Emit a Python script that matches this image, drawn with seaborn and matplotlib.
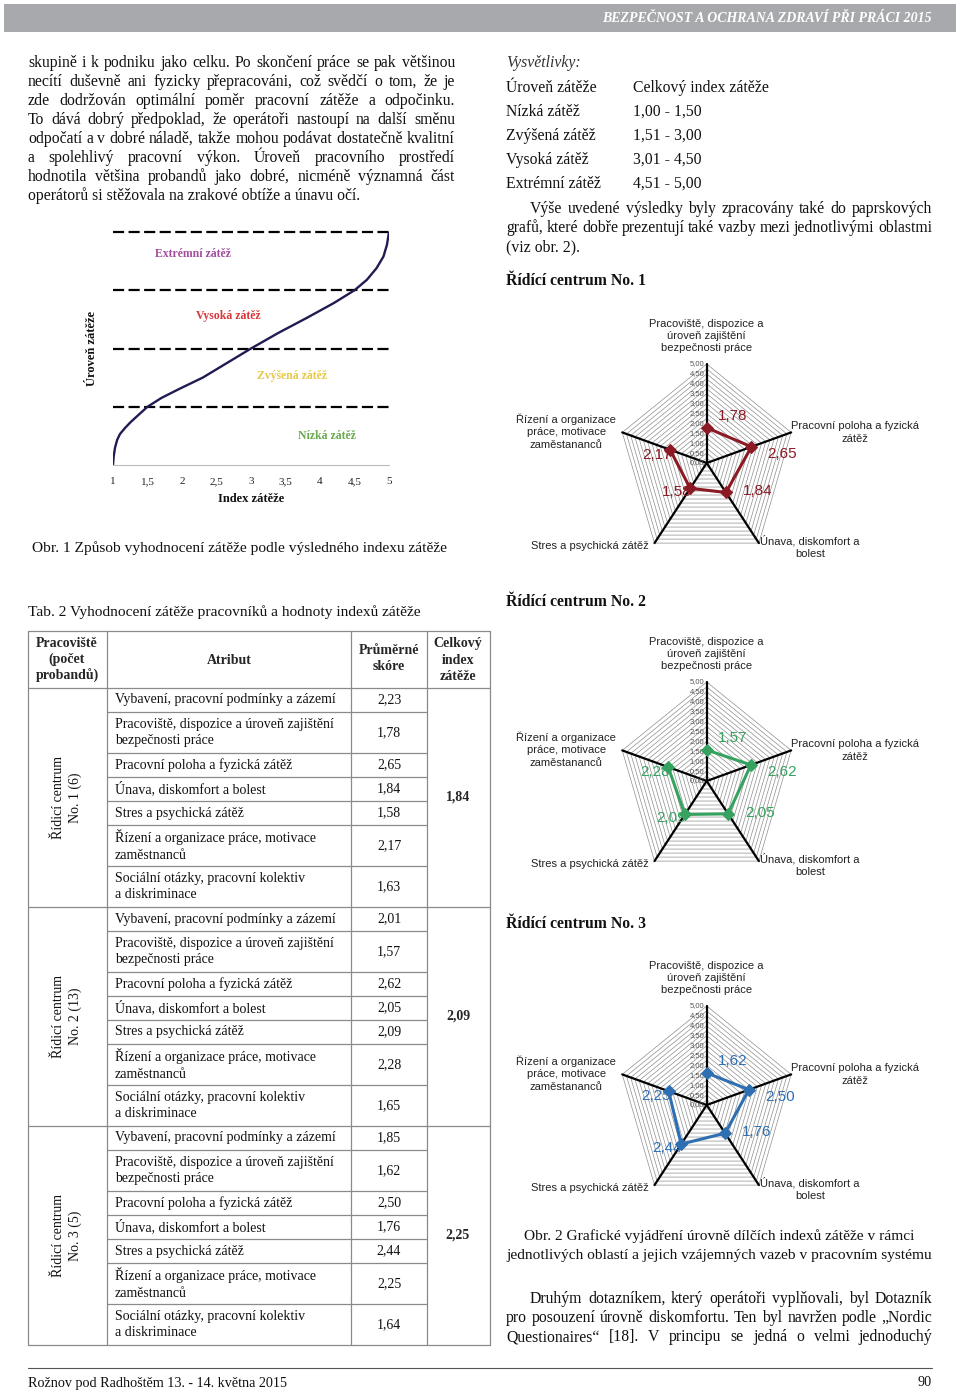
import numpy as np
import pandas as pd
import matplotlib
matplotlib.use("Agg")
import matplotlib.pyplot as plt
import seaborn as sns
from matplotlib.patches import Rectangle
from matplotlib.textpath import TextToPath
from matplotlib.font_manager import FontProperties

# ---- data ----
attributes = ["Vybavení, pracovní podmínky a zázemí",
              "Pracoviště, dispozice a úroveň zajištění\nbezpečnosti práce",
              "Pracovní poloha a fyzická zátěž",
              "Únava, diskomfort a bolest",
              "Stres a psychická zátěž",
              "Řízení a organizace práce, motivace\nzaměstnanců",
              "Sociální otázky, pracovní kolektiv\na diskriminace"]
groups = ["Řídicí centrum\nNo. 1 (6)", "Řídicí centrum\nNo. 2 (13)", "Řídicí centrum\nNo. 3 (5)"]
scores_c1 = [2.23, 1.78, 2.65, 1.84, 1.58, 2.17, 1.63]
scores_c2 = [2.01, 1.57, 2.62, 2.05, 2.09, 2.28, 1.65]
scores_c3 = [1.85, 1.62, 2.50, 1.76, 2.44, 2.25, 1.64]
totals = [1.84, 2.09, 2.25]

radar_axes = ["Pracoviště, dispozice a\núroveň zajištění\nbezpečnosti práce",
              "Pracovní poloha a fyzická\nzátěž",
              "Únava, diskomfort a\nbolest",
              "Stres a psychická zátěž",
              "Řízení a organizace\npráce, motivace\nzaměstananců"]
radar_titles = ["Řídící centrum No. 1", "Řídící centrum No. 2", "Řídící centrum No. 3"]
radar_colors = ["#8b1a24", "#35a35f", "#2e6fb2"]

curve_x = [1.00, 1.01, 1.03, 1.06, 1.10, 1.17, 1.25, 1.36, 1.50, 1.70, 1.95, 2.30,
           2.65, 3.00, 3.40, 3.80, 4.20, 4.50, 4.68, 4.82, 4.92, 4.97, 5.00]
curve_y = [0.00, 0.15, 0.30, 0.43, 0.53, 0.63, 0.73, 0.85, 1.00, 1.15, 1.30, 1.50,
           1.75, 2.00, 2.27, 2.52, 2.78, 3.00, 3.18, 3.38, 3.58, 3.78, 4.00]
zone_levels = [1, 2, 3, 4]
zone_names = ["Nízká zátěž", "Zvýšená zátěž", "Vysoká zátěž", "Extrémní zátěž"]
zone_colors = ["#6aaa4f", "#e6c84a", "#d9363a", "#a24d9e"]
x_ticks = [1, 1.5, 2, 2.5, 3, 3.5, 4, 4.5, 5]

legend_names = ["Úroveň zátěže", "Nízká zátěž", "Zvýšená zátěž", "Vysoká zátěž", "Extrémní zátěž"]
legend_ranges = ["Celkový index zátěže", "1,00 - 1,50", "1,51 - 3,00", "3,01 - 4,50", "4,51 - 5,00"]

left_text = ["skupině i k podniku jako celku. Po skončení práce se pak většinou",
             "necítí duševně ani fyzicky přepracováni, což svědčí o tom, že je",
             "zde dodržován optimální poměr pracovní zátěže a odpočinku.",
             "To dává dobrý předpoklad, že operátoři nastoupí na další směnu",
             "odpočatí a v dobré náladě, takže mohou podávat dostatečně kvalitní",
             "a spolehlivý pracovní výkon. Úroveň pracovního prostředí",
             "hodnotila většina probandů jako dobré, nicméně významná část",
             "operátorů si stěžovala na zrakové obtíže a únavu očí."]
right_text = ["Výše uvedené výsledky byly zpracovány také do paprskových",
              "grafů, které dobře prezentují také vazby mezi jednotlivými oblastmi",
              "(viz obr. 2)."]
bottom_text = ["Druhým dotazníkem, který operátoři vyplňovali, byl Dotazník",
               "pro posouzení úrovně diskomfortu. Ten byl navržen podle „Nordic",
               "Questionaires“ [18]. V principu se jedná o velmi jednoduchý"]

def fmt(v):
    return f"{v:.2f}".replace(".", ",")

# ---- figure ----
sns.set_theme(style="white")
SERIF = ["Liberation Serif", "DejaVu Serif"]
SANS = ["Liberation Sans", "DejaVu Sans"]
plt.rcParams["font.family"] = SERIF
W, H = 960, 1392
fig = plt.figure(figsize=(W / 100, H / 100), dpi=100)
fig.patch.set_facecolor("white")

page = fig.add_axes([0, 0, 1, 1])
page.set_xlim(0, W)
page.set_ylim(H, 0)
page.axis("off")

BODY = 11.3
CAP = 11.1
ttp = TextToPath()

def text_w(s, size, weight="normal"):
    prop = FontProperties(family=SERIF, size=size, weight=weight)
    w, _, _ = ttp.get_text_width_height_descent(s, prop, ismath=False)
    return w * 100 / 72

def justify(line, x0, x1, y, size=BODY):
    words = line.split()
    widths = [text_w(wd, size) for wd in words]
    gap = (x1 - x0 - sum(widths)) / (len(words) - 1)
    x = x0
    for wd, ww in zip(words, widths):
        page.text(x, y, wd, fontsize=size, ha="left", va="center", color="#111")
        x += ww + gap

# header bar
page.add_patch(Rectangle((4, 4), 952, 28, facecolor="#a7a9ac", edgecolor="none"))
page.text(932, 18, "BEZPEČNOST A OCHRANA ZDRAVÍ PŘI PRÁCI 2015", color="white",
          fontsize=10, fontstyle="italic", fontweight="bold", ha="right", va="center")

# left body text
for i, line in enumerate(left_text):
    y = 63 + 19 * i
    if i < len(left_text) - 1:
        justify(line, 28, 455, y)
    else:
        page.text(28, y, line, fontsize=BODY, va="center", color="#111")

# right column legend
page.text(506, 63, "Vysvětlivky:", fontsize=BODY, fontstyle="italic", va="center", color="#333")
for i, (a, b) in enumerate(zip(legend_names, legend_ranges)):
    page.text(506, 88 + 24 * i, a, fontsize=BODY, va="center", color="#111")
    page.text(633, 88 + 24 * i, b, fontsize=BODY, va="center", color="#111")
justify(right_text[0], 530, 932, 209)
justify(right_text[1], 506, 932, 228)
page.text(506, 247, right_text[2], fontsize=BODY, va="center", color="#111")

for t, y in zip(radar_titles, [281, 602, 924]):
    page.text(506, y, t, fontsize=BODY, fontweight="bold", va="center", color="#111")

page.text(32, 548, "Obr. 1 Způsob vyhodnocení zátěže podle výsledného indexu zátěže",
          fontsize=CAP, va="center", color="#111")
page.text(28, 612, "Tab. 2 Vyhodnocení zátěže pracovníků a hodnoty indexů zátěže",
          fontsize=CAP, va="center", color="#111")
page.text(719, 1236, "Obr. 2 Grafické vyjádření úrovně dílčích indexů zátěže v rámci",
          fontsize=CAP, ha="center", va="center", color="#111")
page.text(719, 1255, "jednotlivých oblastí a jejich vzájemných vazeb v pracovním systému",
          fontsize=CAP, ha="center", va="center", color="#111")
justify(bottom_text[0], 530, 932, 1299)
justify(bottom_text[1], 506, 932, 1318)
justify(bottom_text[2], 506, 932, 1337)

# footer
page.plot([28, 932], [1368, 1368], color="#555", lw=0.8)
page.text(28, 1383, "Rožnov pod Radhoštěm 13. - 14. května 2015", fontsize=10.2, va="center", color="#111")
page.text(932, 1383, "90", fontsize=10.2, ha="right", va="center", color="#111")

# ---- table ----
TL = "#8a8a8a"
col_x = [28, 107, 351, 427, 490]
top, head_bot = 631, 688
page.text(67, 660, "Pracoviště\n(počet\nprobandů)", fontsize=10, fontweight="bold",
          ha="center", va="center", linespacing=1.3)
page.text(229, 660, "Atribut", fontsize=10, fontweight="bold", ha="center", va="center")
page.text(389, 659, "Průměrné\nskóre", fontsize=10, fontweight="bold", ha="center", va="center", linespacing=1.3)
page.text(458, 660, "Celkový\nindex\nzátěže", fontsize=10, fontweight="bold", ha="center", va="center", linespacing=1.3)
page.plot([col_x[0], col_x[-1]], [top, top], color=TL, lw=0.9)
page.plot([col_x[0], col_x[-1]], [head_bot, head_bot], color=TL, lw=0.9)

y = head_bot
for g, (name, sc, tot) in enumerate(zip(groups, [scores_c1, scores_c2, scores_c3], totals)):
    g_top = y
    for k, (att, s) in enumerate(zip(attributes, sc)):
        hgt = 41 if "\n" in att else 24
        page.text(115, y + hgt / 2, att, fontsize=10, va="center", linespacing=1.35, color="#111")
        page.text(389, y + hgt / 2, fmt(s), fontsize=10, ha="center", va="center", color="#111")
        y += hgt
        if k < len(attributes) - 1:
            page.plot([col_x[1], col_x[3]], [y, y], color=TL, lw=0.9)
    page.plot([col_x[0], col_x[-1]], [y, y], color=TL, lw=0.9)
    mid = (g_top + y) / 2
    page.text(67, mid, name, fontsize=10, rotation=90, ha="center", va="center",
              linespacing=1.4, multialignment="center", color="#111")
    page.text(458, mid, fmt(tot), fontsize=10, fontweight="bold", ha="center", va="center")
for cx in col_x:
    page.plot([cx, cx], [top, y], color=TL, lw=0.9)

# ---- curve chart (Obr. 1) ----
x0, x1, yb, yt = 113, 389, 465, 232
ax = fig.add_axes([x0 / W, 1 - yb / H, (x1 - x0) / W, (yb - yt) / H])
ax.set_facecolor("none")
ax.hlines(zone_levels, 1, 5, colors="black", linestyles=(0, (5, 2)), lw=1.6, clip_on=False)
sns.lineplot(x=curve_x, y=curve_y, sort=False, color="#201c52", lw=1.7, ax=ax)
ax.set_xlim(1, 5)
ax.set_ylim(0, 4)
ax.set_xticks(x_ticks)
ax.set_xticklabels([str(t).replace(".", ",").replace(",0", "") for t in x_ticks], fontsize=8)
ax.set_yticks([])
for sp in ["top", "right", "left"]:
    ax.spines[sp].set_visible(False)
ax.spines["bottom"].set_color("#bbbbbb")
ax.spines["bottom"].set_linewidth(0.8)
ax.tick_params(axis="x", direction="out", length=3, color="#bbbbbb", width=0.8, pad=6, labelcolor="#222")
ax.set_xlabel("Index zátěže", fontsize=9, fontweight="bold", labelpad=5, color="#111")
ax.set_ylabel("Úroveň zátěže", fontsize=9, fontweight="bold", labelpad=11, color="#111")
zone_pos = [(3.68, 0.50), (3.09, 1.53), (2.20, 2.55), (1.61, 3.62)]
for (zx, zy), nm, c in zip(zone_pos, zone_names, zone_colors):
    ax.text(zx, zy, nm, color=c, fontsize=8.5, fontweight="bold", ha="left", va="center")

# ---- radar charts (Obr. 2) ----
cx = 706.7
Rx, Ry = 88.8, 99.0
half = 5.6
axis_lab_off = [(0, 28), (64, 0), (51, -4), (-65, -3), (-56, 1)]
val_lab_off = [(26, 12), (31, -7), (32, 1), (-14, -4), (-13, -5)]
ang = np.deg2rad(np.arange(5) * 72)
sx, sy = np.sin(ang), np.cos(ang)

for cy, sc, color in zip([463, 781, 1105], [scores_c1, scores_c2, scores_c3], radar_colors):
    vals = np.array(sc[1:6])
    w, h = 2 * half * Rx / 5, 2 * half * Ry / 5
    rax = fig.add_axes([(cx - w / 2) / W, 1 - (cy + h / 2) / H, w / W, h / H])
    rax.set_xlim(-half, half)
    rax.set_ylim(-half, half)
    rax.axis("off")
    rax.set_facecolor("none")
    for lev in np.arange(0.25, 5.001, 0.25):
        rax.plot(np.append(sx, sx[0]) * lev, np.append(sy, sy[0]) * lev, color="#8f8f8f", lw=0.5, zorder=1)
    for a in range(5):
        rax.plot([0, sx[a] * 5], [0, sy[a] * 5], color="black", lw=1.6, zorder=2)
    for v in np.arange(0, 5.001, 0.5):
        rax.text(-0.12, v, fmt(v), fontsize=5.5, family=SANS, color="#555", ha="right", va="center", zorder=3)
    df = pd.DataFrame({"x": np.append(sx * vals, sx[0] * vals[0]),
                       "y": np.append(sy * vals, sy[0] * vals[0])})
    sns.lineplot(data=df, x="x", y="y", sort=False, color=color, lw=2.2, marker="D",
                 markersize=6.5, markeredgecolor=color, ax=rax, zorder=4)
    rax.set_xlabel("")
    rax.set_ylabel("")
    for a in range(5):
        rax.annotate(radar_axes[a], (sx[a] * 5, sy[a] * 5), xytext=axis_lab_off[a],
                     textcoords="offset pixels", ha="center", va="center", fontsize=8,
                     family=SANS, color="#222", linespacing=1.3, annotation_clip=False)
        rax.annotate(fmt(vals[a]), (sx[a] * vals[a], sy[a] * vals[a]), xytext=val_lab_off[a],
                     textcoords="offset pixels", ha="center", va="center", fontsize=11,
                     family=SANS, color=color, annotation_clip=False, zorder=5)

fig.savefig("out.png", dpi=100)
